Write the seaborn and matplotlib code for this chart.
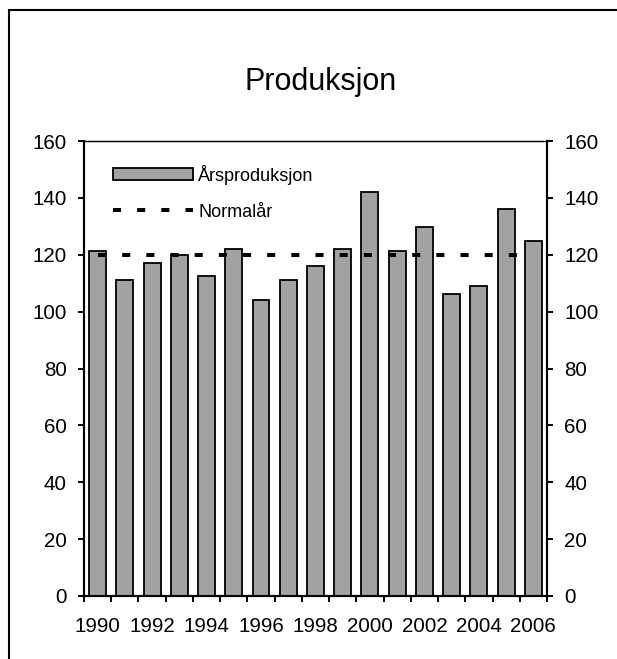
import pandas as pd
import seaborn as sns
import matplotlib.pyplot as plt
from matplotlib.lines import Line2D
from matplotlib.patches import Patch

# Annual production figures
years = [1990, 1991, 1992, 1993, 1994, 1995, 1996, 1997, 1998,
         1999, 2000, 2001, 2002, 2003, 2004, 2005, 2006]
production = [121.2, 111.1, 117.0, 119.8, 112.6, 122.0, 104.1, 111.1, 116.1,
              122.0, 142.0, 121.2, 129.7, 106.2, 109.0, 136.2, 124.7]
normal_year = [120, 120, 120, 120, 120, 120, 120, 120, 120,
               120, 120, 120, 120, 120, 120, 120, 120]
y_ticks = [0, 20, 40, 60, 80, 100, 120, 140, 160]

series_bar = "Årsproduksjon"
series_line = "Normalår"
title = "Produksjon"

sns.set_style("ticks")
plt.rcParams["font.family"] = ["Liberation Sans", "DejaVu Sans"]
plt.rcParams["text.color"] = "black"
plt.rcParams["xtick.color"] = "black"
plt.rcParams["ytick.color"] = "black"
plt.rcParams["xtick.labelcolor"] = "black"
plt.rcParams["ytick.labelcolor"] = "black"

df = pd.DataFrame({
    "year": [str(y) for y in years],
    "production": production,
    "normal": normal_year,
})

fig = plt.figure(figsize=(6.17, 6.59), dpi=100)
ax = fig.add_axes([0.1361, 0.0956, 0.7504, 0.6904])

bar_color = "#a2a2a2"
dash = (2.0, 4.0)
sns.barplot(data=df, x="year", y="production", order=df["year"],
            color=bar_color, edgecolor="black", linewidth=1.3,
            width=0.62, saturation=1, ax=ax)
sns.lineplot(data=df, x="year", y="normal", color="black", linewidth=2.9,
             dashes=False, ax=ax)
ax.lines[-1].set_dashes(dash)
ax.lines[-1].set_dash_capstyle("butt")

ax.set_xlim(-0.5, len(years) - 0.5)
ax.set_ylim(0, 160)
ax.set_xlabel("")
ax.set_ylabel("")

# category labels every second year, ticks on category boundaries
centers = list(range(len(years)))
ax.set_xticks(centers)
ax.set_xticklabels([str(y) if i % 2 == 0 else "" for i, y in enumerate(years)])
ax.set_xticks([c - 0.5 for c in centers] + [len(years) - 0.5], minor=True)
ax.tick_params(axis="x", which="major", length=0, pad=15, labelsize=14.8)
ax.tick_params(axis="x", which="minor", length=4.5, width=1.4,
               direction="out", color="black")

ax.set_yticks(y_ticks)
ax.tick_params(axis="y", which="major", length=4.5, width=1.4,
               direction="out", pad=8, labelsize=14.8, color="black")

ax2 = ax.twinx()
ax2.set_ylim(0, 160)
ax2.set_yticks(y_ticks)
ax2.tick_params(axis="y", which="major", length=4.5, width=1.4,
                direction="out", pad=8, labelsize=14.8, color="black")

for a in (ax, ax2):
    for side in ("left", "right", "bottom"):
        a.spines[side].set_linewidth(1.5)
        a.spines[side].set_color("black")
    a.spines["top"].set_linewidth(0.9)
    a.spines["top"].set_color("black")
    a.spines["top"].set_visible(True)
    a.spines["right"].set_visible(True)

handles = [
    Patch(facecolor=bar_color, edgecolor="black", linewidth=1.3),
    Line2D([0], [0], color="black", linewidth=2.9, dashes=dash,
           dash_capstyle="butt"),
]
ax.legend(handles, [series_bar, series_line], loc="upper left",
          bbox_to_anchor=(0.062, 0.948), frameon=False, fontsize=13,
          handlelength=4.45, handleheight=0.65, handletextpad=0.28,
          labelspacing=1.05, borderpad=0, borderaxespad=0)

fig.text(0.519, 0.876, title, ha="center", va="center", fontsize=22)

# outer frame: top and left edges
fig.add_artist(Line2D([9 / 617, 1.0], [1 - 10 / 659, 1 - 10 / 659],
                      transform=fig.transFigure, color="black", linewidth=1.5))
fig.add_artist(Line2D([9 / 617, 9 / 617], [0.0, 1 - 10 / 659],
                      transform=fig.transFigure, color="black", linewidth=1.5))

fig.savefig("out.png", dpi=100)
